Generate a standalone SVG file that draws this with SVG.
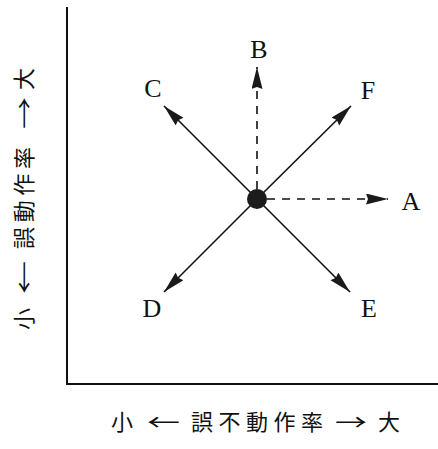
<svg xmlns="http://www.w3.org/2000/svg" width="438" height="449" viewBox="0 0 438 449">
<style>
.axis{stroke:#111;stroke-width:2;fill:none}
.solid{stroke:#111;stroke-width:1.6;fill:none}
.dash{stroke:#111;stroke-width:1.6;fill:none;stroke-dasharray:8,7}
.lbl{font-family:"Liberation Serif","Times New Roman",serif;font-size:26px;fill:#111;text-anchor:middle}
.jp{font-family:"Noto Sans CJK JP","Noto Sans CJK SC",sans-serif;font-size:22px;fill:#111}
</style>
<defs>
<marker id="ah" markerUnits="userSpaceOnUse" markerWidth="24" markerHeight="12" refX="22" refY="5.5" orient="auto">
<path d="M0,0 L22,5.5 L0,11 L2,5.5 z" fill="#1a1a1a"/>
</marker>
</defs>
<g id="axes">
<line class="axis" x1="67" y1="7" x2="67" y2="385"/>
<line class="axis" x1="66" y1="384" x2="438" y2="384"/>
</g>
<g id="connectors">
<line class="dash" x1="267" y1="199" x2="388" y2="199" marker-end="url(#ah)"/>
<line class="dash" x1="257" y1="189" x2="257" y2="67" marker-end="url(#ah)"/>
<line class="solid" x1="257" y1="199" x2="164" y2="106" marker-end="url(#ah)"/>
<line class="solid" x1="257" y1="199" x2="351" y2="106" marker-end="url(#ah)"/>
<line class="solid" x1="257" y1="199" x2="164" y2="292" marker-end="url(#ah)"/>
<line class="solid" x1="257" y1="199" x2="350" y2="292" marker-end="url(#ah)"/>
</g>
<g id="origin"><circle cx="257" cy="199" r="10" fill="#1c1c1c"/></g>
<g id="A"><text class="lbl" x="411" y="210">A</text></g>
<g id="B"><text class="lbl" x="259" y="58">B</text></g>
<g id="C"><text class="lbl" x="153" y="97">C</text></g>
<g id="D"><text class="lbl" x="152" y="317">D</text></g>
<g id="E"><text class="lbl" x="369" y="317">E</text></g>
<g id="F"><text class="lbl" x="368" y="99">F</text></g>
<g id="xlabel">
<text class="jp" y="430"><tspan x="111">小</tspan><tspan x="147" textLength="33" lengthAdjust="spacingAndGlyphs">←</tspan><tspan x="191" textLength="132" lengthAdjust="spacing">誤不動作率</tspan><tspan x="335" textLength="32" lengthAdjust="spacingAndGlyphs">→</tspan><tspan x="378">大</tspan></text>
</g>
<g id="ylabel">
<text class="jp" transform="translate(32,0) rotate(-90)" y="0"><tspan x="-330">小</tspan><tspan x="-294" textLength="33" lengthAdjust="spacingAndGlyphs">←</tspan><tspan x="-249" textLength="102" lengthAdjust="spacing">誤動作率</tspan><tspan x="-129" textLength="32" lengthAdjust="spacingAndGlyphs">→</tspan><tspan x="-90">大</tspan></text>
</g>
</svg>
